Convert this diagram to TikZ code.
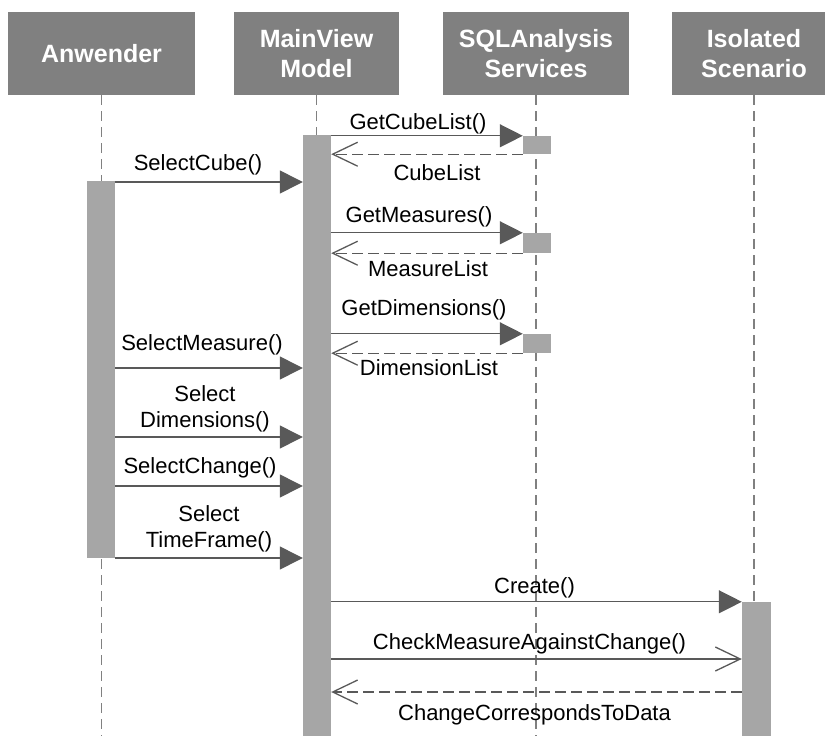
\documentclass[tikz,border=0pt]{standalone}
\usepackage{fontspec}
\setmainfont{Liberation Sans}
\usetikzlibrary{arrows.meta}
\definecolor{headgray}{HTML}{808080}
\definecolor{actgray}{HTML}{A6A6A6}
\definecolor{linegray}{HTML}{595959}
\definecolor{lifegray}{HTML}{808080}
\tikzset{
  head/.style={fill=headgray, text=white, font=\fontsize{25}{30}\selectfont\bfseries,
    align=center, minimum height=83pt, inner sep=0pt},
  act/.style={fill=actgray, minimum width=28pt, inner sep=0pt},
  lifeline/.style={lifegray, line width=1.2pt, dash pattern=on 10pt off 6pt},
  call/.style={linegray, line width=1.3pt, -{Triangle[length=23pt,width=23pt]}},
  async/.style={linegray, line width=1.3pt, -{Straight Barb[length=25pt,width=24pt,line width=1.3pt]}},
  reply/.style={async, dash pattern=on 11pt off 5pt},
  lbl/.style={font=\fontsize{22}{26}\selectfont, text=black, inner sep=0pt, align=center}
}

\begin{document}
\begin{tikzpicture}[x=1pt,y=-1pt]
\useasboundingbox (0,0) rectangle (825,736);
\clip (0,0) rectangle (825,736);
% lifeline heads
\node[head, minimum width=187pt] (anw) at (101.5,53.5) {Anwender};
\node[head, minimum width=165pt] (mvm) at (316.5,53.5) {MainView\\Model};
\node[head, minimum width=186pt] (sql) at (536,53.5) {SQLAnalysis\\Services};
\node[head, minimum width=164pt] (iso) at (754,53.5) {Isolated\\Scenario};
% lifelines
\draw[lifeline] (anw.south) -- (anw.south |- 0,745);
\draw[lifeline] (mvm.south) -- (mvm.south |- 0,745);
\draw[lifeline] (sql.south) -- (sql.south |- 0,745);
\draw[lifeline] (iso.south) -- (iso.south |- 0,745);
% activations
\node[act, minimum height=377pt] (anwact) at (101,369.5) {};
\node[act, minimum height=610pt] (mvmact) at (317,440) {};
\node[act, minimum height=18pt] (sqlact1) at (537,145) {};
\node[act, minimum height=20pt] (sqlact2) at (537,243) {};
\node[act, minimum height=19pt] (sqlact3) at (537,343.5) {};
\node[act, minimum height=143pt, minimum width=29pt] (isoact) at (756.5,673.5) {};
% message levels
\coordinate (selcube) at (0,182);
\coordinate (selmeas) at (0,368);
\coordinate (seldim) at (0,437);
\coordinate (selchg) at (0,486);
\coordinate (seltime) at (0,558);
\coordinate (check) at (0,659);
\coordinate (corr) at (0,692);
% MainViewModel <-> SQLAnalysisServices
\draw[call] (mvmact.east |- sqlact1.north) -- (sqlact1.north west)
  node[lbl, midway, above=1.5pt, xshift=-9pt] {GetCubeList()};
\draw[reply] (sqlact1.south west) -- (mvmact.east |- sqlact1.south)
  node[lbl, midway, below=10pt, xshift=10pt] {CubeList};
\draw[call] (mvmact.east |- sqlact2.north) -- (sqlact2.north west)
  node[lbl, midway, above=5.5pt, xshift=-8pt] {GetMeasures()};
\draw[reply] (sqlact2.south west) -- (mvmact.east |- sqlact2.south)
  node[lbl, midway, below=7pt, xshift=1pt] {MeasureList};
\draw[call] (mvmact.east |- sqlact3.north) -- (sqlact3.north west)
  node[lbl, midway, above=13pt, xshift=-3pt] {GetDimensions()};
\draw[reply] (sqlact3.south west) -- (mvmact.east |- sqlact3.south)
  node[lbl, midway, below=6pt, xshift=2pt] {DimensionList};
% Anwender -> MainViewModel
\draw[call] (anwact.east |- selcube) -- (mvmact.west |- selcube)
  node[lbl, midway, above=6.5pt, xshift=-11pt] {SelectCube()};
\draw[call] (anwact.east |- selmeas) -- (mvmact.west |- selmeas)
  node[lbl, midway, above=12.5pt, xshift=-7pt] {SelectMeasure()};
\draw[call] (anwact.east |- seldim) -- (mvmact.west |- seldim)
  node[lbl, midway, above=4.5pt, xshift=-4pt] {Select\\Dimensions()};
\draw[call] (anwact.east |- selchg) -- (mvmact.west |- selchg)
  node[lbl, midway, above=7.5pt, xshift=-9pt] {SelectChange()};
\draw[call] (anwact.east |- seltime) -- (mvmact.west |- seltime)
  node[lbl, midway, above=5.5pt] {Select\\TimeFrame()};
% MainViewModel <-> IsolatedScenario
\draw[call] (mvmact.east |- isoact.north) -- (isoact.north west)
  node[lbl, midway, above=3.5pt, xshift=-2pt] {Create()};
\draw[async] (mvmact.east |- check) -- (isoact.west |- check)
  node[lbl, midway, above=4.5pt, xshift=-7pt] {CheckMeasureAgainstChange()};
\draw[reply] (isoact.west |- corr) -- (mvmact.east |- corr)
  node[lbl, midway, below=12pt, xshift=-2pt] {ChangeCorrespondsToData};
\end{tikzpicture}
\end{document}
